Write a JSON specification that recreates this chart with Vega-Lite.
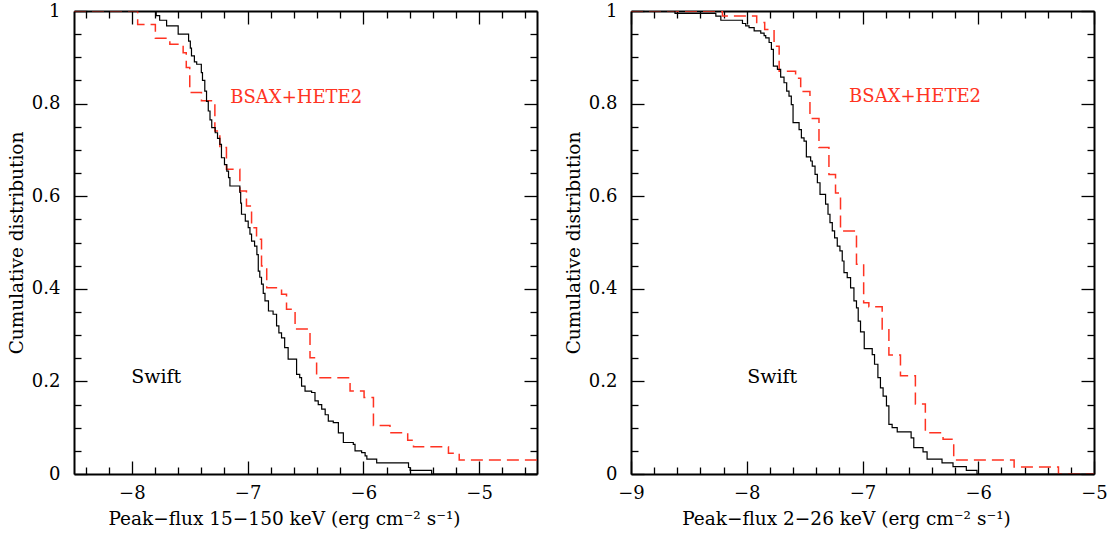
{
  "$schema": "https://vega.github.io/schema/vega-lite/v6.json",
  "background": "white",
  "padding": {"left": 7, "top": 2, "right": 5, "bottom": 5},
  "spacing": 94,
  "bounds": "flush",
  "config": {
    "view": {"stroke": null},
    "font": "DejaVu Serif",
    "axis": {
      "grid": false,
      "labelFont": "DejaVu Serif",
      "labelFontSize": 18,
      "labelColor": "black",
      "labelFlush": false,
      "labelOverlap": false,
      "titleFont": "DejaVu Serif",
      "titleFontSize": 18.5,
      "titleFontWeight": "normal",
      "titleColor": "black",
      "tickColor": "black",
      "tickWidth": 1.3,
      "domainColor": "black",
      "domainWidth": 2
    }
  },
  "datasets": {
    "swift1": [
      {"flux": -8.5, "frac": 1.0}, {"flux": -7.79, "frac": 0.99}, {"flux": -7.76, "frac": 0.98}, {"flux": -7.7, "frac": 0.968},
      {"flux": -7.6, "frac": 0.95}, {"flux": -7.51, "frac": 0.935}, {"flux": -7.495, "frac": 0.92}, {"flux": -7.485, "frac": 0.903},
      {"flux": -7.46, "frac": 0.89}, {"flux": -7.44, "frac": 0.885}, {"flux": -7.4, "frac": 0.867}, {"flux": -7.39, "frac": 0.85},
      {"flux": -7.37, "frac": 0.827}, {"flux": -7.355, "frac": 0.805}, {"flux": -7.34, "frac": 0.784}, {"flux": -7.325, "frac": 0.765},
      {"flux": -7.31, "frac": 0.748}, {"flux": -7.28, "frac": 0.737}, {"flux": -7.26, "frac": 0.725}, {"flux": -7.24, "frac": 0.712},
      {"flux": -7.226, "frac": 0.683}, {"flux": -7.2, "frac": 0.668}, {"flux": -7.18, "frac": 0.654}, {"flux": -7.165, "frac": 0.64},
      {"flux": -7.153, "frac": 0.622}, {"flux": -7.067, "frac": 0.608}, {"flux": -7.06, "frac": 0.585}, {"flux": -7.053, "frac": 0.561},
      {"flux": -7.02, "frac": 0.546}, {"flux": -6.995, "frac": 0.532}, {"flux": -6.98, "frac": 0.518}, {"flux": -6.966, "frac": 0.503},
      {"flux": -6.94, "frac": 0.492}, {"flux": -6.92, "frac": 0.474}, {"flux": -6.908, "frac": 0.438}, {"flux": -6.895, "frac": 0.425},
      {"flux": -6.88, "frac": 0.41}, {"flux": -6.865, "frac": 0.39}, {"flux": -6.85, "frac": 0.374}, {"flux": -6.82, "frac": 0.352},
      {"flux": -6.78, "frac": 0.345}, {"flux": -6.75, "frac": 0.32}, {"flux": -6.73, "frac": 0.305}, {"flux": -6.707, "frac": 0.294},
      {"flux": -6.68, "frac": 0.273}, {"flux": -6.65, "frac": 0.248}, {"flux": -6.577, "frac": 0.215}, {"flux": -6.55, "frac": 0.208},
      {"flux": -6.534, "frac": 0.19}, {"flux": -6.504, "frac": 0.179}, {"flux": -6.447, "frac": 0.176}, {"flux": -6.418, "frac": 0.158},
      {"flux": -6.39, "frac": 0.15}, {"flux": -6.36, "frac": 0.14}, {"flux": -6.33, "frac": 0.128}, {"flux": -6.303, "frac": 0.114},
      {"flux": -6.26, "frac": 0.111}, {"flux": -6.216, "frac": 0.089}, {"flux": -6.173, "frac": 0.068}, {"flux": -6.087, "frac": 0.064},
      {"flux": -6.072, "frac": 0.05}, {"flux": -6.015, "frac": 0.046}, {"flux": -5.985, "frac": 0.039}, {"flux": -5.97, "frac": 0.032},
      {"flux": -5.885, "frac": 0.024}, {"flux": -5.61, "frac": 0.014}, {"flux": -5.596, "frac": 0.008}, {"flux": -5.41, "frac": 0.0},
      {"flux": -4.5, "frac": 0.0}
    ],
    "bsax1": [
      {"flux": -8.5, "frac": 1.0}, {"flux": -7.95, "frac": 0.971}, {"flux": -7.797, "frac": 0.941}, {"flux": -7.672, "frac": 0.928},
      {"flux": -7.557, "frac": 0.91}, {"flux": -7.53, "frac": 0.878}, {"flux": -7.5, "frac": 0.824}, {"flux": -7.399, "frac": 0.806},
      {"flux": -7.283, "frac": 0.741}, {"flux": -7.24, "frac": 0.705}, {"flux": -7.183, "frac": 0.658}, {"flux": -7.067, "frac": 0.611},
      {"flux": -7.01, "frac": 0.579}, {"flux": -6.966, "frac": 0.532}, {"flux": -6.923, "frac": 0.507}, {"flux": -6.88, "frac": 0.449},
      {"flux": -6.835, "frac": 0.402}, {"flux": -6.707, "frac": 0.388}, {"flux": -6.664, "frac": 0.356}, {"flux": -6.59, "frac": 0.313},
      {"flux": -6.461, "frac": 0.251}, {"flux": -6.404, "frac": 0.208}, {"flux": -6.115, "frac": 0.179}, {"flux": -5.994, "frac": 0.165},
      {"flux": -5.913, "frac": 0.105}, {"flux": -5.77, "frac": 0.089}, {"flux": -5.617, "frac": 0.073}, {"flux": -5.567, "frac": 0.059},
      {"flux": -5.265, "frac": 0.045}, {"flux": -5.172, "frac": 0.03}, {"flux": -4.5, "frac": 0.03}
    ],
    "swift2": [
      {"flux": -9.0, "frac": 1.0}, {"flux": -8.62, "frac": 0.995}, {"flux": -8.267, "frac": 0.989}, {"flux": -8.224, "frac": 0.98},
      {"flux": -8.037, "frac": 0.973}, {"flux": -8.009, "frac": 0.968}, {"flux": -7.98, "frac": 0.964}, {"flux": -7.936, "frac": 0.957},
      {"flux": -7.879, "frac": 0.952}, {"flux": -7.85, "frac": 0.947}, {"flux": -7.836, "frac": 0.942}, {"flux": -7.807, "frac": 0.932},
      {"flux": -7.787, "frac": 0.917}, {"flux": -7.77, "frac": 0.881}, {"flux": -7.735, "frac": 0.874}, {"flux": -7.707, "frac": 0.857},
      {"flux": -7.678, "frac": 0.845}, {"flux": -7.655, "frac": 0.827}, {"flux": -7.635, "frac": 0.816}, {"flux": -7.615, "frac": 0.798},
      {"flux": -7.6, "frac": 0.759}, {"flux": -7.548, "frac": 0.744}, {"flux": -7.528, "frac": 0.726}, {"flux": -7.505, "frac": 0.719},
      {"flux": -7.485, "frac": 0.685}, {"flux": -7.448, "frac": 0.676}, {"flux": -7.434, "frac": 0.665}, {"flux": -7.41, "frac": 0.647},
      {"flux": -7.39, "frac": 0.629}, {"flux": -7.367, "frac": 0.604}, {"flux": -7.319, "frac": 0.583}, {"flux": -7.298, "frac": 0.561},
      {"flux": -7.281, "frac": 0.543}, {"flux": -7.261, "frac": 0.525}, {"flux": -7.241, "frac": 0.51}, {"flux": -7.218, "frac": 0.492},
      {"flux": -7.195, "frac": 0.482}, {"flux": -7.175, "frac": 0.46}, {"flux": -7.16, "frac": 0.435}, {"flux": -7.132, "frac": 0.424},
      {"flux": -7.103, "frac": 0.402}, {"flux": -7.074, "frac": 0.374}, {"flux": -7.052, "frac": 0.359}, {"flux": -7.037, "frac": 0.33},
      {"flux": -7.017, "frac": 0.307}, {"flux": -6.985, "frac": 0.271}, {"flux": -6.916, "frac": 0.258}, {"flux": -6.896, "frac": 0.237},
      {"flux": -6.867, "frac": 0.208}, {"flux": -6.845, "frac": 0.186}, {"flux": -6.822, "frac": 0.168}, {"flux": -6.793, "frac": 0.147},
      {"flux": -6.772, "frac": 0.107}, {"flux": -6.744, "frac": 0.1}, {"flux": -6.7, "frac": 0.091}, {"flux": -6.58, "frac": 0.078},
      {"flux": -6.557, "frac": 0.057}, {"flux": -6.477, "frac": 0.048}, {"flux": -6.442, "frac": 0.032}, {"flux": -6.313, "frac": 0.024},
      {"flux": -6.218, "frac": 0.016}, {"flux": -6.103, "frac": 0.008}, {"flux": -6.011, "frac": 0.0}, {"flux": -5.0, "frac": 0.0}
    ],
    "bsax2": [
      {"flux": -9.0, "frac": 1.0}, {"flux": -8.21, "frac": 0.989}, {"flux": -7.914, "frac": 0.975}, {"flux": -7.845, "frac": 0.96},
      {"flux": -7.764, "frac": 0.924}, {"flux": -7.72, "frac": 0.87}, {"flux": -7.578, "frac": 0.855}, {"flux": -7.534, "frac": 0.826},
      {"flux": -7.454, "frac": 0.768}, {"flux": -7.376, "frac": 0.705}, {"flux": -7.29, "frac": 0.647}, {"flux": -7.233, "frac": 0.607},
      {"flux": -7.19, "frac": 0.525}, {"flux": -7.052, "frac": 0.453}, {"flux": -6.99, "frac": 0.37}, {"flux": -6.945, "frac": 0.361},
      {"flux": -6.83, "frac": 0.313}, {"flux": -6.772, "frac": 0.257}, {"flux": -6.672, "frac": 0.212}, {"flux": -6.543, "frac": 0.151},
      {"flux": -6.457, "frac": 0.089}, {"flux": -6.304, "frac": 0.075}, {"flux": -6.212, "frac": 0.03}, {"flux": -5.69, "frac": 0.015},
      {"flux": -5.307, "frac": 0.0}, {"flux": -5.0, "frac": 0.0}
    ]
  },
  "hconcat": [
    {
      "width": 463,
      "height": 463,
      "resolve": {"axis": {"x": "independent", "y": "independent"}},
      "layer": [
        {
          "data": {"name": "bsax1"},
          "mark": {"type": "line", "interpolate": "step-after", "color": "#ff3322", "strokeWidth": 1.5, "strokeDash": [12, 6], "clip": true},
          "encoding": {
            "x": {"field": "flux", "type": "quantitative", "scale": {"domain": [-8.5, -4.5], "nice": false, "zero": false},
              "axis": {"orient": "top", "values": [-8, -7, -6, -5], "tickSize": -13, "labels": false, "title": null}},
            "y": {"field": "frac", "type": "quantitative", "scale": {"domain": [0, 1], "nice": false, "zero": false},
              "axis": {"orient": "right", "values": [0, 0.2, 0.4, 0.6, 0.8, 1], "tickSize": -13, "labels": false, "title": null}}
          }
        },
        {
          "data": {"name": "swift1"},
          "mark": {"type": "line", "interpolate": "step-after", "color": "black", "strokeWidth": 1.2, "clip": true},
          "encoding": {
            "x": {"field": "flux", "type": "quantitative",
              "axis": {"orient": "bottom", "values": [-8, -7, -6, -5], "tickSize": -13, "labelPadding": 23, "title": "Peak−flux 15−150 keV (erg cm⁻² s⁻¹)", "titlePadding": 7, "titleX": 210}},
            "y": {"field": "frac", "type": "quantitative",
              "axis": {"orient": "left", "values": [0, 0.2, 0.4, 0.6, 0.8, 1], "format": "~g", "tickSize": -13, "labelPadding": 27, "title": "Cumulative distribution", "titlePadding": 5}}
          }
        },
        {
          "data": {"values": [{"label": "Swift", "flux": -7.79, "frac": 0.21}]},
          "mark": {"type": "text", "color": "black", "font": "DejaVu Serif", "fontSize": 19, "align": "center", "baseline": "middle"},
          "encoding": {
            "text": {"field": "label"},
            "x": {"field": "flux", "type": "quantitative",
              "axis": {"orient": "bottom", "values": [-8.4, -8.2, -7.8, -7.6, -7.4, -7.2, -6.8, -6.6, -6.4, -6.2, -5.8, -5.6, -5.4, -5.2, -4.8, -4.6], "tickSize": -7, "labels": false, "domain": false, "title": null}},
            "y": {"field": "frac", "type": "quantitative",
              "axis": {"orient": "left", "values": [0.05, 0.1, 0.15, 0.25, 0.3, 0.35, 0.45, 0.5, 0.55, 0.65, 0.7, 0.75, 0.85, 0.9, 0.95], "tickSize": -7, "labels": false, "domain": false, "title": null}}
          }
        },
        {
          "data": {"values": [{"label": "BSAX+HETE2", "flux": -6.58, "frac": 0.812}]},
          "mark": {"type": "text", "color": "#ff3322", "font": "DejaVu Serif", "fontSize": 18, "align": "center", "baseline": "middle"},
          "encoding": {
            "text": {"field": "label"},
            "x": {"field": "flux", "type": "quantitative",
              "axis": {"orient": "top", "values": [-8.4, -8.2, -7.8, -7.6, -7.4, -7.2, -6.8, -6.6, -6.4, -6.2, -5.8, -5.6, -5.4, -5.2, -4.8, -4.6], "tickSize": -7, "labels": false, "domain": false, "title": null}},
            "y": {"field": "frac", "type": "quantitative",
              "axis": {"orient": "right", "values": [0.05, 0.1, 0.15, 0.25, 0.3, 0.35, 0.45, 0.5, 0.55, 0.65, 0.7, 0.75, 0.85, 0.9, 0.95], "tickSize": -7, "labels": false, "domain": false, "title": null}}
          }
        }
      ]
    },
    {
      "width": 463,
      "height": 463,
      "resolve": {"axis": {"x": "independent", "y": "independent"}},
      "layer": [
        {
          "data": {"name": "bsax2"},
          "mark": {"type": "line", "interpolate": "step-after", "color": "#ff3322", "strokeWidth": 1.5, "strokeDash": [12, 6], "clip": true},
          "encoding": {
            "x": {"field": "flux", "type": "quantitative", "scale": {"domain": [-9, -5], "nice": false, "zero": false},
              "axis": {"orient": "top", "values": [-9, -8, -7, -6, -5], "tickSize": -13, "labels": false, "title": null}},
            "y": {"field": "frac", "type": "quantitative", "scale": {"domain": [0, 1], "nice": false, "zero": false},
              "axis": {"orient": "right", "values": [0, 0.2, 0.4, 0.6, 0.8, 1], "tickSize": -13, "labels": false, "title": null}}
          }
        },
        {
          "data": {"name": "swift2"},
          "mark": {"type": "line", "interpolate": "step-after", "color": "black", "strokeWidth": 1.2, "clip": true},
          "encoding": {
            "x": {"field": "flux", "type": "quantitative",
              "axis": {"orient": "bottom", "values": [-9, -8, -7, -6, -5], "tickSize": -13, "labelPadding": 23, "title": "Peak−flux 2−26 keV (erg cm⁻² s⁻¹)", "titlePadding": 7, "titleX": 215}},
            "y": {"field": "frac", "type": "quantitative",
              "axis": {"orient": "left", "values": [0, 0.2, 0.4, 0.6, 0.8, 1], "format": "~g", "tickSize": -13, "labelPadding": 27, "title": "Cumulative distribution", "titlePadding": 5}}
          }
        },
        {
          "data": {"values": [{"label": "Swift", "flux": -7.78, "frac": 0.21}]},
          "mark": {"type": "text", "color": "black", "font": "DejaVu Serif", "fontSize": 19, "align": "center", "baseline": "middle"},
          "encoding": {
            "text": {"field": "label"},
            "x": {"field": "flux", "type": "quantitative",
              "axis": {"orient": "bottom", "values": [-8.8, -8.6, -8.4, -8.2, -7.8, -7.6, -7.4, -7.2, -6.8, -6.6, -6.4, -6.2, -5.8, -5.6, -5.4, -5.2], "tickSize": -7, "labels": false, "domain": false, "title": null}},
            "y": {"field": "frac", "type": "quantitative",
              "axis": {"orient": "left", "values": [0.05, 0.1, 0.15, 0.25, 0.3, 0.35, 0.45, 0.5, 0.55, 0.65, 0.7, 0.75, 0.85, 0.9, 0.95], "tickSize": -7, "labels": false, "domain": false, "title": null}}
          }
        },
        {
          "data": {"values": [{"label": "BSAX+HETE2", "flux": -6.546, "frac": 0.814}]},
          "mark": {"type": "text", "color": "#ff3322", "font": "DejaVu Serif", "fontSize": 18, "align": "center", "baseline": "middle"},
          "encoding": {
            "text": {"field": "label"},
            "x": {"field": "flux", "type": "quantitative",
              "axis": {"orient": "top", "values": [-8.8, -8.6, -8.4, -8.2, -7.8, -7.6, -7.4, -7.2, -6.8, -6.6, -6.4, -6.2, -5.8, -5.6, -5.4, -5.2], "tickSize": -7, "labels": false, "domain": false, "title": null}},
            "y": {"field": "frac", "type": "quantitative",
              "axis": {"orient": "right", "values": [0.05, 0.1, 0.15, 0.25, 0.3, 0.35, 0.45, 0.5, 0.55, 0.65, 0.7, 0.75, 0.85, 0.9, 0.95], "tickSize": -7, "labels": false, "domain": false, "title": null}}
          }
        }
      ]
    }
  ]
}
